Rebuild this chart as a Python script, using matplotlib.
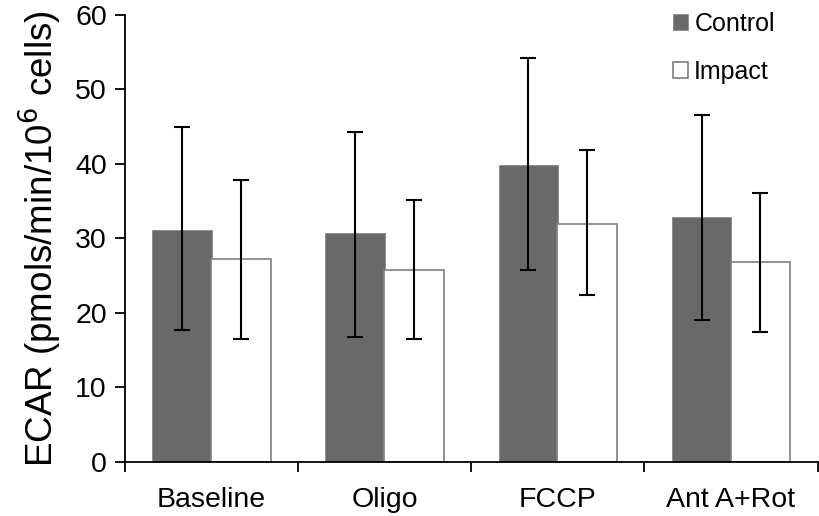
import numpy as np
import matplotlib.pyplot as plt

plt.rcParams['font.family'] = ['Liberation Sans', 'DejaVu Sans']

categories = ['Baseline', 'Oligo', 'FCCP', 'Ant A+Rot']
control = [31.1, 30.7, 39.9, 32.9]
control_lo = [17.7, 16.8, 25.8, 19.1]
control_hi = [44.9, 44.3, 54.2, 46.6]
impact = [27.2, 25.8, 32.0, 26.9]
impact_lo = [16.5, 16.5, 22.4, 17.5]
impact_hi = [37.9, 35.1, 41.9, 36.1]

x = np.arange(len(categories))
w = 0.345
off = 0.17

fig = plt.figure(figsize=(8.2, 5.16), dpi=100)
ax = fig.add_axes([0.1524, 0.1047, 0.8446, 0.8663])

c_err = [np.array(control) - np.array(control_lo), np.array(control_hi) - np.array(control)]
i_err = [np.array(impact) - np.array(impact_lo), np.array(impact_hi) - np.array(impact)]

ax.bar(x - off, control, w, color='#696969', edgecolor='#8a8a8a', linewidth=0.6, label='Control', zorder=2)
ax.bar(x + off, impact, w, color='white', edgecolor='#7f7f7f', linewidth=1.2, label='Impact', zorder=2)
ax.errorbar(x - off, control, yerr=c_err, fmt='none', ecolor='black', elinewidth=1.5, capsize=5.5, capthick=1.5, zorder=3)
ax.errorbar(x + off, impact, yerr=i_err, fmt='none', ecolor='black', elinewidth=1.5, capsize=5.5, capthick=1.5, zorder=3)

ax.set_xlim(-0.5, len(categories) - 0.5)
ax.set_ylim(0, 60)
ax.set_yticks(range(0, 61, 10))
ax.set_xticks(x)
ax.set_xticklabels(categories, fontsize=20.5)
ax.set_xticks(np.arange(len(categories) + 1) - 0.5, minor=True)
ax.tick_params(axis='x', which='major', length=0, pad=18)
ax.tick_params(axis='x', which='minor', length=7, width=1.3, direction='out')
ax.tick_params(axis='y', labelsize=20.5, length=7, width=1.3, direction='out', pad=6)

ax.spines['top'].set_visible(False)
ax.spines['right'].set_visible(False)
ax.spines['left'].set_linewidth(1.3)
ax.spines['bottom'].set_linewidth(1.3)

ax.set_ylabel('ECAR (pmols/min/10$^6$ cells)', fontsize=26.5, labelpad=8)

leg = ax.legend(loc='upper left', bbox_to_anchor=(658 / 820, 1.006), bbox_transform=fig.transFigure,
                frameon=False, fontsize=18, handlelength=0.6, handleheight=0.6,
                handletextpad=0.25, labelspacing=0.95, borderaxespad=0.2)

fig.savefig('out.png', dpi=100)
